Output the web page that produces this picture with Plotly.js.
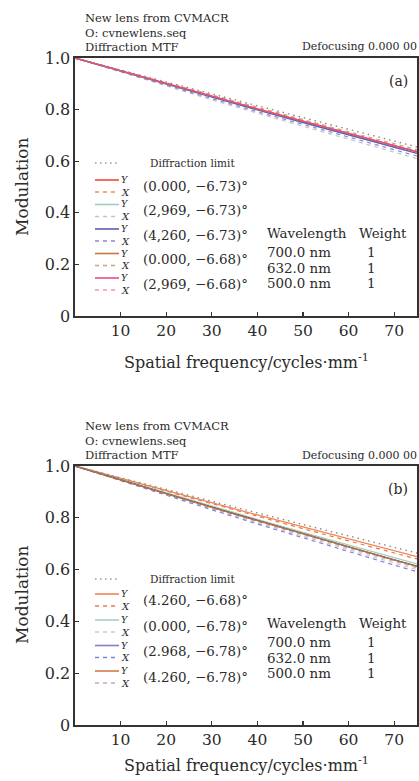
<!DOCTYPE html>
<html>
<head>
<meta charset="utf-8">
<script src="https://cdn.plot.ly/plotly-3.0.1.min.js"></script>
<style>html,body{margin:0;padding:0;background:#fff;}#chart{width:419px;height:781px;}</style>
</head>
<body>
<div id="chart"></div>
<script>
// ---- data ----
const freq = [0, 10, 20, 30, 40, 50, 60, 70, 75];
const xTicks = [10, 20, 30, 40, 50, 60, 70];
const yTickVals = [0, 0.2, 0.4, 0.6, 0.8, 1.0];
const yTickText = ['0', '0.2', '0.4', '0.6', '0.8', '1.0'];

// Panel (a)
const aDiffLimit = [1, 0.953, 0.907, 0.861, 0.815, 0.769, 0.723, 0.678, 0.655];
const aF1Y = [1, 0.950, 0.900, 0.851, 0.802, 0.754, 0.706, 0.659, 0.636];
const aF1X = [1, 0.951, 0.902, 0.853, 0.805, 0.757, 0.709, 0.662, 0.639];
const aF2Y = [1, 0.949, 0.899, 0.849, 0.800, 0.751, 0.703, 0.655, 0.632];
const aF2X = [1, 0.945, 0.891, 0.838, 0.786, 0.735, 0.684, 0.634, 0.610];
const aF3Y = [1, 0.949, 0.898, 0.848, 0.799, 0.750, 0.702, 0.654, 0.630];
const aF3X = [1, 0.947, 0.894, 0.843, 0.792, 0.742, 0.692, 0.644, 0.620];
const aF4Y = [1, 0.950, 0.901, 0.852, 0.803, 0.755, 0.707, 0.660, 0.637];
const aF4X = [1, 0.952, 0.904, 0.856, 0.808, 0.761, 0.714, 0.668, 0.645];
const aF5Y = [1, 0.950, 0.900, 0.851, 0.803, 0.755, 0.707, 0.660, 0.637];
const aF5X = [1, 0.950, 0.900, 0.850, 0.801, 0.753, 0.705, 0.657, 0.634];
const aFields = ['(0.000, \u22126.73)\u00b0', '(2,969, \u22126.73)\u00b0', '(4,260, \u22126.73)\u00b0', '(0.000, \u22126.68)\u00b0', '(2,969, \u22126.68)\u00b0'];

// Panel (b)
const bDiffLimit = [1, 0.954, 0.909, 0.864, 0.819, 0.774, 0.730, 0.686, 0.664];
const bF1Y = [1, 0.952, 0.905, 0.858, 0.811, 0.765, 0.719, 0.673, 0.650];
const bF1X = [1, 0.951, 0.902, 0.854, 0.806, 0.758, 0.711, 0.664, 0.641];
const bF2Y = [1, 0.948, 0.896, 0.845, 0.794, 0.744, 0.695, 0.646, 0.622];
const bF2X = [1, 0.944, 0.889, 0.834, 0.781, 0.728, 0.676, 0.625, 0.600];
const bF3Y = [1, 0.946, 0.893, 0.841, 0.789, 0.738, 0.688, 0.638, 0.613];
const bF3X = [1, 0.943, 0.886, 0.831, 0.776, 0.722, 0.669, 0.617, 0.592];
const bF4Y = [1, 0.946, 0.893, 0.840, 0.789, 0.738, 0.687, 0.637, 0.612];
const bF4X = [1, 0.945, 0.891, 0.837, 0.785, 0.733, 0.682, 0.632, 0.607];
const bFields = ['(4.260, \u22126.68)\u00b0', '(0.000, \u22126.78)\u00b0', '(2.968, \u22126.78)\u00b0', '(4.260, \u22126.78)\u00b0'];

const wavelengths = ['700.0 nm', '632.0 nm', '500.0 nm'];
const weights = ['1', '1', '1'];
const headerLines = ['New lens from CVMACR', 'O: cvnewlens.seq', 'Diffraction MTF'];
const defocusText = 'Defocusing 0.000 00';
const xTitle = 'Spatial frequency/cycles\u00b7mm<sup>-1</sup>';
const yTitle = 'Modulation';

// ---- styles ----
const aColors = [['#ee4a3a', '#f0904a'], ['#a4ccc2', '#bcc4c6'], ['#5e5eb0', '#8888d8'], ['#c8783a', '#d4a07e'], ['#f04a86', '#f094b2']];
const bColors = [['#f08656', '#f07448'], ['#a6d0c0', '#c4cccc'], ['#8a7cc8', '#8080e0'], ['#d07c4c', '#c8aca6']];
const bLineColors = [['#f08656', '#f07448'], ['#a6d0c0', '#c4cccc'], ['#404056', '#8080e0'], ['#b87048', '#c8aca6']];

const W = 419, H = 781, L = 75, R = 2, T = 58, B = 56;
const pw = W - L - R, ph = H - T - B;
const px = x => (x - L) / pw;
const py = y => (H - B - y) / ph;

const FONT = 'DejaVu Serif, Liberation Serif, serif';
const TXT = '#2a2a2a';

const traces = [];
function addPanel(dl, series, colors, xa, ya) {
  series.forEach((s, i) => {
    traces.push({x: freq, y: s[1], xaxis: xa, yaxis: ya, type: 'scatter', mode: 'lines', showlegend: false,
      line: {color: colors[i][1], width: 1.2, dash: '4px,4px'}});
  });
  series.forEach((s, i) => {
    traces.push({x: freq, y: s[0], xaxis: xa, yaxis: ya, type: 'scatter', mode: 'lines', showlegend: false,
      line: {color: colors[i][0], width: 1.3}});
  });
  traces.push({x: freq, y: dl, xaxis: xa, yaxis: ya, type: 'scatter', mode: 'lines', showlegend: false,
    line: {color: '#8a8a8a', width: 1.4, dash: '1.5px,4px'}});
}
addPanel(aDiffLimit, [[aF1Y, aF1X], [aF2Y, aF2X], [aF3Y, aF3X], [aF4Y, aF4X], [aF5Y, aF5X]], aColors, 'x', 'y');
addPanel(bDiffLimit, [[bF1Y, bF1X], [bF2Y, bF2X], [bF3Y, bF3X], [bF4Y, bF4X]], bLineColors, 'x2', 'y2');

const annotations = [];
const shapes = [];
function txt(text, x, y, size, xanchor, angle) {
  annotations.push({text: text, x: px(x), y: py(y), xref: 'paper', yref: 'paper',
    xanchor: xanchor || 'left', yanchor: 'middle', showarrow: false, textangle: angle || 0,
    font: {family: FONT, size: size, color: TXT}});
}
function seg(x0, x1, y, color, dash, width) {
  shapes.push({type: 'line', xref: 'paper', yref: 'paper', x0: px(x0), x1: px(x1), y0: py(y), y1: py(y),
    line: {color: color, width: width, dash: dash}});
}

function decorate(off, panelLabel, fields, colors, dlY, rows, tableRows) {
  headerLines.forEach((t, i) => txt(t, 83, 18 + off + i * 14.5, 11.5, 'left'));
  txt(defocusText, 419, 47 + off, 11, 'right');
  txt(panelLabel, 398, 81 + off, 14, 'center');
  seg(95, 119, dlY, '#999999', '1.5px,3.5px', 1.4);
  txt('Diffraction limit', 148, dlY, 10.5, 'left');
  fields.forEach((f, i) => {
    const cy = rows[i];
    seg(95, 119, cy - 6, colors[i][0], 'solid', 1.6);
    seg(95, 119, cy + 6, colors[i][1], '4px,4px', 1.6);
    txt('<i>Y</i>', 125, cy - 6.5, 9.5, 'center');
    txt('<i>X</i>', 125, cy + 6, 10, 'center');
    txt(f, 141, cy, 13.4, 'left');
  });
  txt('Wavelength', 265, tableRows[0], 13.4, 'left');
  txt('Weight', 357, tableRows[0], 13.4, 'left');
  wavelengths.forEach((w, i) => {
    txt(w, 265, tableRows[i + 1], 13.4, 'left');
    txt(weights[i], 371, tableRows[i + 1], 13.4, 'center');
  });
}
decorate(0, '(a)', aFields, aColors, 163, [186, 210.5, 235, 259.5, 284], [233, 252, 268, 283]);
decorate(408, '(b)', bFields, bColors, 579, [600, 626, 651.5, 677], [623, 642, 658, 673]);

// axis titles
txt(xTitle, 246, 361, 16, 'center');
txt(xTitle, 246, 764, 16, 'center');
txt(yTitle, 22, 187, 17, 'center', -90);
txt(yTitle, 22, 595, 17, 'center', -90);

function xAxis(anchor) {
  return {anchor: anchor, domain: [0, 1], range: [0, 75], tickvals: xTicks, ticks: 'inside', ticklen: 4, tickwidth: 1.2, tickcolor: '#333',
    showline: true, linecolor: '#333', linewidth: 1.6, mirror: true, showgrid: false, zeroline: false,
    tickfont: {family: FONT, size: 15.5, color: TXT}, fixedrange: true};
}
function yAxis(anchor, domain) {
  return {anchor: anchor, domain: domain, range: [0, 1], tickvals: yTickVals, ticktext: yTickText, ticks: 'inside', ticklen: 4, tickwidth: 1.2, tickcolor: '#333',
    showline: true, linecolor: '#333', linewidth: 1.6, mirror: true, showgrid: false, zeroline: false,
    tickfont: {family: FONT, size: 16, color: TXT}, fixedrange: true};
}

const layout = {
  width: W, height: H, margin: {l: L, r: R, t: T, b: B},
  paper_bgcolor: '#fff', plot_bgcolor: '#fff', showlegend: false,
  xaxis: xAxis('y'),
  yaxis: yAxis('x', [py(316), 1]),
  xaxis2: xAxis('y2'),
  yaxis2: yAxis('x2', [0, py(466)]),
  annotations: annotations, shapes: shapes
};
Plotly.newPlot('chart', traces, layout, {staticPlot: true, displayModeBar: false});
</script>
</body>
</html>
